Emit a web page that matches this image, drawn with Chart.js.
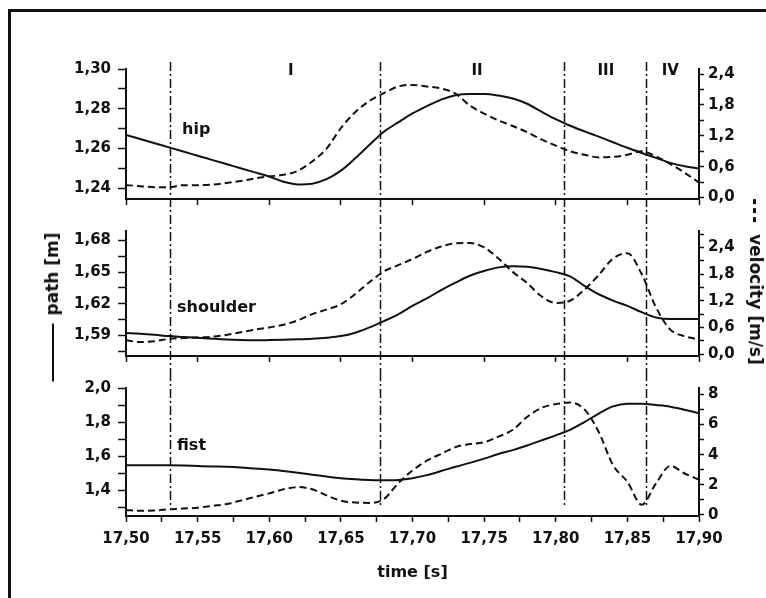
<!DOCTYPE html>
<html>
<head>
<meta charset="utf-8">
<script src="https://cdn.jsdelivr.net/npm/chart.js@4.4.1/dist/chart.umd.min.js"></script>
<style>
  body { margin: 0; background: #fff; }
  .figure { position: relative; width: 766px; height: 598px; overflow: hidden; background: #fff;
            font-family: 'DejaVu Sans', sans-serif; font-weight: bold; color: #111; }
  .frame { position: absolute; left: 8px; top: 9px; width: 900px; height: 800px;
           border-left: 3px solid #111; border-top: 3px solid #111; }
  .figure canvas { position: absolute; left: 0; }
  .axis-title { position: absolute; white-space: nowrap; font-size: 17px; line-height: 20px; }
  .axis-title.left { left: 52px; top: 307px; transform: translate(-50%, -50%) rotate(-90deg); }
  .axis-title.right { left: 756px; top: 282px; transform: translate(-50%, -50%) rotate(90deg); }
  .key { display: inline-block; vertical-align: middle; margin-right: 8px; }
  .key.solid { width: 58px; height: 2px; background: #111; }
  .key.dashed { width: 27px; height: 3px; background: repeating-linear-gradient(90deg, #111 0 5px, transparent 5px 9px); }
</style>
</head>
<body>
<div class="figure">
    <div class="frame"></div>
    <canvas id="hipChart" width="766" height="215" style="top:0"></canvas>
    <canvas id="shoulderChart" width="766" height="157" style="top:215px"></canvas>
    <canvas id="fistChart" width="766" height="226" style="top:372px"></canvas>
    <div class="axis-title left"><span class="key solid"></span>path [m]</div>
    <div class="axis-title right"><span class="key dashed"></span>velocity [m/s]</div>
</div>

<script>
    // sample times [s]
    const timeS = [17.50, 17.51, 17.52, 17.53, 17.54, 17.55, 17.56, 17.57, 17.58, 17.59,
                   17.60, 17.61, 17.62, 17.63, 17.64, 17.65, 17.66, 17.67, 17.68, 17.69,
                   17.70, 17.71, 17.72, 17.73, 17.74, 17.75, 17.76, 17.77, 17.78, 17.79,
                   17.80, 17.81, 17.82, 17.83, 17.84, 17.85, 17.86, 17.87, 17.88, 17.89, 17.90];

    // path [m] (solid) and velocity [m/s] (dashed)
    const hipPath = [1.2668, 1.2647, 1.2626, 1.2605, 1.2584, 1.2563, 1.2542, 1.2521, 1.2500, 1.2479,
                     1.2458, 1.2432, 1.2418, 1.2422, 1.2445, 1.2488, 1.2550, 1.2618, 1.2684, 1.2731,
                     1.2776, 1.2813, 1.2846, 1.2868, 1.2874, 1.2874, 1.2866, 1.2851, 1.2825, 1.2785,
                     1.2747, 1.2714, 1.2686, 1.2659, 1.2631, 1.2603, 1.2577, 1.2552, 1.2527, 1.2510, 1.2499];
    const hipVel = [0.24, 0.22, 0.20, 0.20, 0.24, 0.24, 0.25, 0.28, 0.32, 0.37,
                    0.41, 0.44, 0.52, 0.70, 0.95, 1.35, 1.66, 1.88, 2.03, 2.16,
                    2.19, 2.16, 2.12, 2.02, 1.79, 1.63, 1.50, 1.39, 1.27, 1.13,
                    1.01, 0.90, 0.83, 0.78, 0.79, 0.83, 0.90, 0.80, 0.65, 0.48, 0.29];

    const shoulderPath = [1.5922, 1.5915, 1.5905, 1.5893, 1.5885, 1.5877, 1.5868, 1.5860, 1.5855, 1.5853,
                          1.5855, 1.5858, 1.5862, 1.5868, 1.5878, 1.5893, 1.5925, 1.5975, 1.6035, 1.6100,
                          1.6180, 1.6250, 1.6330, 1.6400, 1.6465, 1.6510, 1.6545, 1.6555, 1.6550, 1.6530,
                          1.6500, 1.6460, 1.6370, 1.6290, 1.6230, 1.6180, 1.6120, 1.6070, 1.6054, 1.6054, 1.6056];
    const shoulderVel = [0.31, 0.27, 0.29, 0.34, 0.36, 0.37, 0.39, 0.43, 0.49, 0.55,
                         0.60, 0.66, 0.76, 0.90, 1.00, 1.12, 1.35, 1.62, 1.86, 2.00,
                         2.14, 2.30, 2.42, 2.49, 2.50, 2.40, 2.15, 1.85, 1.60, 1.30,
                         1.15, 1.20, 1.45, 1.78, 2.15, 2.27, 1.80, 1.05, 0.55, 0.40, 0.33];

    const fistPath = [1.546, 1.546, 1.546, 1.546, 1.545, 1.542, 1.539, 1.537, 1.533, 1.527,
                      1.521, 1.512, 1.502, 1.491, 1.480, 1.470, 1.464, 1.460, 1.458, 1.460,
                      1.470, 1.488, 1.512, 1.537, 1.560, 1.585, 1.612, 1.635, 1.662, 1.692,
                      1.722, 1.754, 1.800, 1.850, 1.892, 1.908, 1.908, 1.900, 1.890, 1.872, 1.852];
    const fistVel = [0.33, 0.27, 0.30, 0.37, 0.42, 0.48, 0.60, 0.72, 0.95, 1.20,
                     1.43, 1.70, 1.85, 1.70, 1.30, 0.95, 0.82, 0.80, 1.05, 2.10,
                     2.95, 3.60, 4.05, 4.50, 4.70, 4.82, 5.20, 5.65, 6.50, 7.10,
                     7.35, 7.45, 7.00, 5.50, 3.30, 2.20, 0.68, 2.10, 3.25, 2.75, 2.35];

    // phase boundaries and names
    const phaseBounds = [17.531, 17.677, 17.806, 17.863];
    const phaseNames = ['I', 'II', 'III', 'IV'];
    const phaseNameAt = [17.615, 17.745, 17.835, 17.88];

    // tick values and labels
    const timeTicks = [17.500, 17.525, 17.550, 17.575, 17.600, 17.625, 17.650, 17.675, 17.700,
                       17.725, 17.750, 17.775, 17.800, 17.825, 17.850, 17.875, 17.900];
    const timeTickLabels = ['17,50', '', '17,55', '', '17,60', '', '17,65', '', '17,70',
                            '', '17,75', '', '17,80', '', '17,85', '', '17,90'];

    const hipPathTicks = [1.24, 1.25, 1.26, 1.27, 1.28, 1.29, 1.30];
    const hipPathLabels = ['1,24', '', '1,26', '', '1,28', '', '1,30'];
    const hipVelTicks = [0, 0.3, 0.6, 0.9, 1.2, 1.5, 1.8, 2.1, 2.4];
    const hipVelLabels = ['0,0', '', '0,6', '', '1,2', '', '1,8', '', '2,4'];

    const shoulderPathTicks = [1.575, 1.59, 1.605, 1.62, 1.635, 1.65, 1.665, 1.68];
    const shoulderPathLabels = ['', '1,59', '', '1,62', '', '1,65', '', '1,68'];
    const shoulderVelTicks = [0, 0.3, 0.6, 0.9, 1.2, 1.5, 1.8, 2.1, 2.4, 2.7];
    const shoulderVelLabels = ['0,0', '', '0,6', '', '1,2', '', '1,8', '', '2,4', ''];

    const fistPathTicks = [1.3, 1.4, 1.5, 1.6, 1.7, 1.8, 1.9, 2.0];
    const fistPathLabels = ['', '1,4', '', '1,6', '', '1,8', '', '2,0'];
    const fistVelTicks = [0, 1, 2, 3, 4, 5, 6, 7, 8];
    const fistVelLabels = ['0', '', '2', '', '4', '', '6', '', '8'];

    const INK = '#111';
    const tickFont = { family: 'DejaVu Sans', size: 15, weight: 'bold' };

    // dash-dot phase lines, panel name, phase names
    const figureDecor = {
        id: 'figureDecor',
        afterDatasetsDraw(chart, args, opts) {
            const { ctx, chartArea, scales } = chart;
            ctx.save();
            ctx.strokeStyle = INK;
            ctx.lineWidth = 1.5;
            ctx.setLineDash([9, 3, 2, 3]);
            phaseBounds.forEach(t => {
                const x = Math.round(scales.x.getPixelForValue(t)) + 0.5;
                ctx.beginPath();
                ctx.moveTo(x, opts.lineTop);
                ctx.lineTo(x, opts.lineBottom);
                ctx.stroke();
            });
            ctx.setLineDash([]);
            ctx.fillStyle = INK;
            ctx.textBaseline = 'middle';
            ctx.font = 'bold 16px "DejaVu Sans"';
            ctx.textAlign = 'left';
            ctx.fillText(opts.label, chartArea.left + opts.labelDx, chartArea.top + opts.labelDy);
            if (opts.showPhases) {
                ctx.font = 'bold 15px "DejaVu Sans"';
                ctx.textAlign = 'center';
                phaseNames.forEach((name, i) => {
                    ctx.fillText(name, scales.x.getPixelForValue(phaseNameAt[i]), 71);
                });
            }
            ctx.restore();
        }
    };

    function yAxis(position, min, max, ticks, labels, width) {
        const left = position === 'left';
        return {
            position: position,
            min: min,
            max: max,
            afterBuildTicks: s => { s.ticks = ticks.map(v => ({ value: v })); },
            afterFit: s => { s.width = width; },
            grid: { display: true, drawOnChartArea: false, drawTicks: true,
                    tickLength: left ? 8 : 5, tickWidth: 1.5, tickColor: INK },
            border: { display: true, color: INK, width: 2 },
            ticks: { autoSkip: false, padding: left ? 7 : 4, color: INK, font: tickFont,
                     callback: (v, i) => labels[i] }
        };
    }

    function buildPanel(canvasId, cfg) {
        const xTicks = cfg.timeLabels ? timeTicks : timeTicks.filter((t, i) => timeTickLabels[i] !== '');
        new Chart(document.getElementById(canvasId), {
            type: 'line',
            data: {
                datasets: [
                    {
                        label: 'path',
                        data: cfg.path.map((v, i) => ({ x: timeS[i], y: v })),
                        yAxisID: 'path',
                        borderColor: INK,
                        borderWidth: 2,
                        pointRadius: 0,
                        cubicInterpolationMode: 'monotone'
                    },
                    {
                        label: 'velocity',
                        data: cfg.vel.map((v, i) => ({ x: timeS[i], y: v })),
                        yAxisID: 'vel',
                        borderColor: INK,
                        borderWidth: 2,
                        borderDash: [7, 4],
                        pointRadius: 0,
                        cubicInterpolationMode: 'monotone'
                    }
                ]
            },
            options: {
                responsive: false,
                animation: false,
                layout: { padding: { left: 60, right: 10, top: cfg.padTop, bottom: 0 } },
                scales: {
                    x: {
                        type: 'linear',
                        min: 17.5,
                        max: 17.9,
                        afterBuildTicks: s => { s.ticks = xTicks.map(v => ({ value: v })); },
                        afterFit: s => { s.height = cfg.xHeight; },
                        grid: { display: true, drawOnChartArea: false, drawTicks: true,
                                tickLength: 6, tickWidth: 1.5, tickColor: INK },
                        border: { display: true, color: INK, width: 2 },
                        ticks: {
                            autoSkip: false, maxRotation: 0, padding: 8, color: INK, font: tickFont,
                            callback: (v, i) => cfg.timeLabels ? timeTickLabels[i] : ''
                        },
                        title: {
                            display: !!cfg.timeLabels,
                            text: 'time [s]',
                            color: INK,
                            font: { family: 'DejaVu Sans', size: 16, weight: 'bold' },
                            padding: { top: 4, bottom: 16 }
                        }
                    },
                    path: yAxis('left', cfg.pathMin, cfg.pathMax, cfg.pathTicks, cfg.pathLabels, 66),
                    vel: yAxis('right', cfg.velMin, cfg.velMax, cfg.velTicks, cfg.velLabels, 57)
                },
                plugins: {
                    legend: { display: false },
                    tooltip: { enabled: false },
                    figureDecor: cfg.decor
                }
            },
            plugins: [figureDecor]
        });
    }

    buildPanel('hipChart', {
        path: hipPath, vel: hipVel, padTop: 69, xHeight: 14,
        pathMin: 1.2345, pathMax: 1.30, pathTicks: hipPathTicks, pathLabels: hipPathLabels,
        velMin: -0.03, velMax: 2.50, velTicks: hipVelTicks, velLabels: hipVelLabels,
        decor: { label: 'hip', labelDx: 56, labelDy: 61, lineTop: 62, lineBottom: 215, showPhases: true }
    });

    buildPanel('shoulderChart', {
        path: shoulderPath, vel: shoulderVel, padTop: 14, xHeight: 14,
        pathMin: 1.5704, pathMax: 1.689, pathTicks: shoulderPathTicks, pathLabels: shoulderPathLabels,
        velMin: -0.044, velMax: 2.77, velTicks: shoulderVelTicks, velLabels: shoulderVelLabels,
        decor: { label: 'shoulder', labelDx: 51, labelDy: 77, lineTop: 0, lineBottom: 157, showPhases: false }
    });

    buildPanel('fistChart', {
        path: fistPath, vel: fistVel, padTop: 15, xHeight: 82, timeLabels: true,
        pathMin: 1.248, pathMax: 2.0, pathTicks: fistPathTicks, pathLabels: fistPathLabels,
        velMin: -0.07, velMax: 8.42, velTicks: fistVelTicks, velLabels: fistVelLabels,
        decor: { label: 'fist', labelDx: 51, labelDy: 58, lineTop: 0, lineBottom: 133, showPhases: false }
    });
</script>
</body>
</html>
